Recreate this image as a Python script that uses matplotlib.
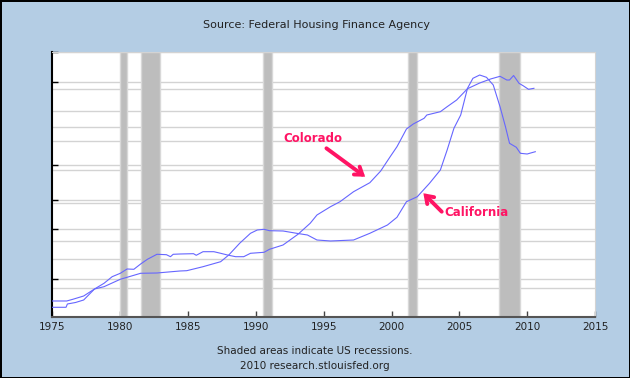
import matplotlib
matplotlib.use('Agg')
import matplotlib.pyplot as plt
from matplotlib.ticker import FixedLocator, NullFormatter

# values (index units, unlabeled axis)
co_years = [1975.0, 1976.0, 1976.1, 1976.7, 1977.3, 1978.1, 1978.8, 1979.4, 1980.0, 1980.5,
            1981.0, 1981.5, 1982.0, 1982.7, 1983.4, 1983.7, 1983.9, 1984.4, 1985.4, 1985.6,
            1986.1, 1986.9, 1987.4, 1987.9, 1988.5, 1989.1, 1989.6, 1990.6, 1991.0, 1992.0,
            1993.1, 1994.0, 1994.5, 1995.5, 1996.2, 1997.2, 1998.4, 1999.2, 1999.9, 2000.4,
            2000.6, 2001.1, 2001.6, 2002.4, 2002.6, 2003.6, 2004.1, 2004.8, 2005.6, 2006.5,
            2007.3, 2008.0, 2008.5, 2008.7, 2009.0, 2009.4, 2009.7, 2010.1, 2010.5]
co_values = [9.4, 9.4, 12.7, 14.2, 16.7, 27.7, 33.4, 40.0, 43.4, 47.7,
             47.4, 52.7, 57.4, 62.4, 62.0, 60.0, 62.4, 62.7, 63.0, 61.4,
             65.0, 65.0, 63.4, 61.7, 60.0, 60.0, 63.4, 64.4, 67.4, 71.7,
             82.4, 93.4, 101.7, 110.0, 115.0, 125.0, 134.0, 145.7, 160.0, 170.0,
             175.0, 187.7, 192.7, 198.4, 201.7, 205.0, 210.0, 216.7, 228.0, 233.7,
             237.7, 240.4, 236.7, 236.7, 241.2, 233.4, 231.0, 227.4, 228.4]

ca_years = [1975.0, 1976.05, 1976.5, 1977.3, 1978.1, 1978.8, 1980.0, 1981.5, 1982.7, 1984.4,
            1984.9, 1986.1, 1987.4, 1988.0, 1988.8, 1989.6, 1990.1, 1990.6, 1991.0, 1992.0,
            1993.0, 1993.8, 1994.5, 1995.5, 1997.2, 1998.4, 1999.7, 2000.4, 2001.1, 2001.9,
            2002.8, 2003.6, 2004.1, 2004.6, 2005.1, 2005.6, 2006.0, 2006.5, 2007.0, 2007.5,
            2008.0, 2008.4, 2008.7, 2009.2, 2009.5, 2010.0, 2010.6]
ca_values = [15.7, 15.7, 17.4, 20.7, 27.7, 30.0, 37.4, 43.4, 43.7, 45.7,
             46.0, 50.0, 55.0, 61.7, 73.4, 83.4, 86.7, 87.4, 86.0, 85.7,
             83.4, 81.7, 76.7, 75.7, 76.7, 83.4, 91.7, 99.4, 115.0, 120.0,
             133.4, 146.7, 166.7, 188.4, 201.7, 228.4, 238.4, 241.7, 239.4, 231.7,
             210.0, 190.0, 173.4, 169.4, 163.4, 162.7, 165.0]

recessions = [(1980.0, 1980.5), (1981.5, 1982.9), (1990.5, 1991.2),
              (2001.2, 2001.9), (2007.9, 2009.5)]

x_ticks = list(range(1975, 2016, 5))
y_major = [37.4, 87.4, 116.4, 151.4, 234.4, 265]
y_minor = [28.4, 57.4, 75.4, 113.4, 146.4, 175.7, 189.4, 205.4, 227.4]

bg = '#b4cde4'
pink = '#ff1464'
line_col = '#6666ff'

fig = plt.figure(figsize=(6.3, 3.78), dpi=100, facecolor=bg,
                 edgecolor='black', linewidth=2)
ax = fig.add_axes([0.0833, 0.1622, 0.8611, 0.701])

for start, end in recessions:
    ax.axvspan(start, end, facecolor='#bdbdbd', edgecolor='#d8d8d8', lw=1, zorder=1)

ax.plot(co_years, co_values, color=line_col, lw=0.8, zorder=3)
ax.plot(ca_years, ca_values, color=line_col, lw=0.8, zorder=3)

ax.set_xlim(1975, 2015)
ax.set_ylim(0, 265)
ax.set_xticks(x_ticks)
ax.yaxis.set_major_locator(FixedLocator(y_major))
ax.yaxis.set_minor_locator(FixedLocator(y_minor))
ax.yaxis.set_major_formatter(NullFormatter())
ax.grid(True, axis='y', which='both', color='#d3d3d3', lw=1, zorder=0)
ax.set_axisbelow(True)

ax.tick_params(axis='x', direction='in', length=4, width=1, colors='#444444',
               labelcolor='#222222', labelsize=7.5, pad=4)
ax.tick_params(axis='y', which='major', direction='in', length=4, width=1, colors='black')
ax.tick_params(axis='y', which='minor', length=0)

ax.spines['left'].set_color('black')
ax.spines['left'].set_linewidth(1.5)
ax.spines['bottom'].set_color('#555555')
ax.spines['bottom'].set_linewidth(1.5)
ax.spines['top'].set_color('#d3d3d3')
ax.spines['right'].set_color('#d3d3d3')

arrow = dict(arrowstyle='->,head_length=0.5,head_width=0.35', color=pink, lw=2.8,
             shrinkA=0, shrinkB=0, joinstyle='miter')
ax.text(1994.2, 178.7, 'Colorado', color=pink, fontsize=8.5, fontweight='bold',
        ha='center', va='center', zorder=5)
ax.annotate('', xy=(1998.05, 140), xytext=(1995.2, 168.4), arrowprops=arrow, zorder=5)
ax.text(2006.3, 103.7, 'California', color=pink, fontsize=8.5, fontweight='bold',
        ha='center', va='center', zorder=5)
ax.annotate('', xy=(2002.35, 123.4), xytext=(2003.7, 105), arrowprops=arrow, zorder=5)

fig.text(0.503, 0.934, 'Source: Federal Housing Finance Agency', ha='center',
         va='center', fontsize=8, color='#222222')
fig.text(0.5, 0.071, 'Shaded areas indicate US recessions.', ha='center',
         va='center', fontsize=7.5, color='#222222')
fig.text(0.5, 0.032, '2010 research.stlouisfed.org', ha='center',
         va='center', fontsize=7.5, color='#222222')

fig.savefig('out.png', dpi=100, facecolor=bg, edgecolor='black')
